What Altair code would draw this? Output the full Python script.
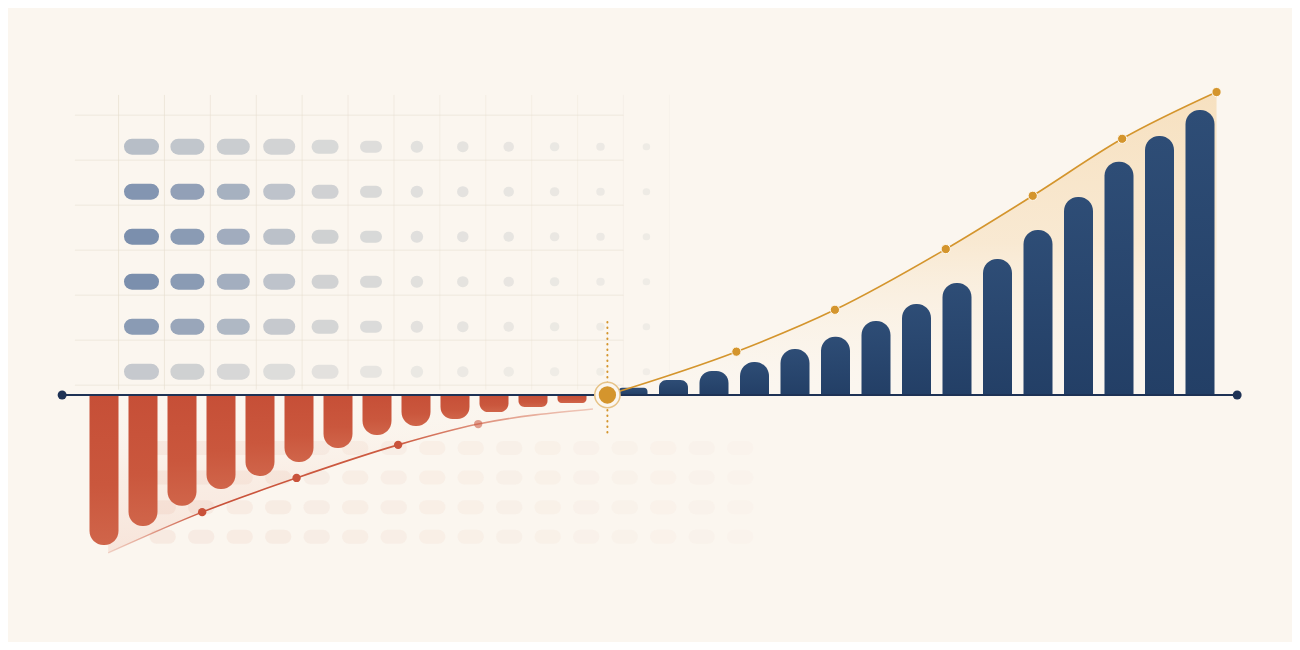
import altair as alt
import pandas as pd

# ---------------- data ----------------
loss_period = list(range(-13, 0))
loss_value = [-52.6, -46.0, -38.9, -33.0, -28.4, -23.5, -18.6, -14.0, -10.9, -8.4, -6.0, -4.2, -2.8]

gain_period = list(range(1, 16))
gain_value = [2.5, 5.3, 8.4, 11.6, 16.1, 20.4, 26.0, 31.9, 39.3, 47.7, 57.9, 69.5, 81.8, 90.9, 100.0]

trend_up_period = [0.5, 3.63, 6.02, 8.71, 10.82, 12.99, 15.28]
trend_up_value = [0.0, 15.2, 29.9, 51.2, 69.9, 89.9, 106.3]

trend_down_period = [-12.77, -10.41, -8.04, -5.49, -3.48, -0.6]
trend_down_value = [-55.4, -41.1, -29.1, -17.5, -10.2, -4.9]

break_even_period = [0.5]
axis_extent = [-12.73, 15.78]
marker_extent = [25.6, -14.0]

# background pill matrix (shade 0..1 per column, one list per row)
grid_row_1 = [0.55, 0.48, 0.42, 0.35, 0.28, 0.22, 0.18, 0.15, 0.12, 0.09, 0.07, 0.05]
grid_row_2 = [0.90, 0.80, 0.66, 0.50, 0.37, 0.27, 0.20, 0.16, 0.13, 0.10, 0.07, 0.05]
grid_row_3 = [0.95, 0.85, 0.70, 0.52, 0.38, 0.28, 0.20, 0.16, 0.13, 0.10, 0.07, 0.05]
grid_row_4 = [0.95, 0.85, 0.68, 0.50, 0.36, 0.27, 0.19, 0.15, 0.12, 0.09, 0.06, 0.04]
grid_row_5 = [0.85, 0.75, 0.60, 0.45, 0.33, 0.25, 0.17, 0.14, 0.10, 0.08, 0.05, 0.04]
grid_row_6 = [0.45, 0.38, 0.30, 0.23, 0.17, 0.13, 0.09, 0.07, 0.05, 0.04, 0.03, 0.02]
grid_rows = [grid_row_1, grid_row_2, grid_row_3, grid_row_4, grid_row_5, grid_row_6]
lower_rows = [1, 2, 3, 4]
lower_cols = list(range(1, 17))

# ---------------- styles ----------------
BG = "#FBF6EF"
NAVY = "#1E3255"
GOLD = "#D4952D"
RED = "#C9523A"
PILL_LEN_PX = [19, 18, 17, 16, 13, 10, 0.5, 0.5, 0.5, 0.5, 0.5, 0.5]
PILL_THICK_PX = [16, 16, 16, 16, 14, 12, 12, 11, 10, 9, 8, 7]
COL_STEP_PX = 45.9

W, H = 1284, 634

# ---------------- tables ----------------
loss = pd.DataFrame({"period": loss_period, "value": loss_value})
gain = pd.DataFrame({"period": gain_period, "value": gain_value})
up = pd.DataFrame({"period": trend_up_period, "value": trend_up_value})
up_dots = up.iloc[1:]
down = pd.DataFrame({"period": trend_down_period, "value": trend_down_value})
down_dots = down.iloc[1:5]
bep = pd.DataFrame({"period": break_even_period, "value": [0.0]})
axis_df = pd.DataFrame({"start": [axis_extent[0]], "end": [axis_extent[1]]})
axis_ends = pd.DataFrame({"period": axis_extent, "value": [0.0, 0.0]})
marker_df = pd.DataFrame({"period": break_even_period, "top": [marker_extent[0]], "bottom": [marker_extent[1]]})

pill_records = []
for r, row in enumerate(grid_rows, start=1):
    for c, shade in enumerate(row, start=1):
        half = PILL_LEN_PX[c - 1] / 2 / COL_STEP_PX
        pill_records.append({"row": r, "col": c, "x1": c - half, "x2": c + half,
                             "shade": shade, "thick": PILL_THICK_PX[c - 1]})
pills = pd.DataFrame(pill_records)

vlines = pd.DataFrame({"gx": [c - 0.5 for c in range(1, 14)], "y1": -0.15, "y2": 6.4})
hlines = pd.DataFrame({"gy": [r - 0.7 for r in range(1, 8)], "x1": -0.45, "x2": 11.5})

lower = pd.DataFrame([{"lrow": q, "lcol": k} for q in lower_rows for k in lower_cols])

# ---------------- scales ----------------
Y = alt.Scale(domain=[-86.67, 135.79], nice=False, zero=False)
XR = alt.Scale(domain=[-13, -1], range=[91, 569], nice=False, zero=False)
XB = alt.Scale(domain=[1, 15], range=[620, 1197], nice=False, zero=False)
GX = alt.Scale(domain=[1, 12], range=[133.5, 638.4], nice=False, zero=False)
GY = alt.Scale(domain=[1, 6], range=[138.7, 363.7], nice=False, zero=False)
LX = alt.Scale(domain=[1, 16], range=[154.7, 732.2], nice=False, zero=False)
LY = alt.Scale(domain=[1, 4], range=[440, 528.8], nice=False, zero=False)


def grad(stops, vertical=True):
    return alt.Gradient(
        gradient="linear",
        stops=[alt.GradientStop(color=c, offset=o) for o, c in stops],
        x1=0, x2=0 if vertical else 1, y1=0, y2=1 if vertical else 0,
    )


# background grid lines
grid_v = alt.Chart(vlines).mark_rule(color="#E6DDCE", strokeWidth=1).encode(
    x=alt.X("gx:Q", scale=GX, axis=None),
    y=alt.Y("y1:Q", scale=GY, axis=None),
    y2="y2:Q",
    opacity=alt.Opacity("gx:Q", scale=alt.Scale(domain=[0.5, 12.5], range=[0.65, 0.15]), legend=None),
)
grid_h = alt.Chart(hlines).mark_rule(color="#E6DDCE", strokeWidth=1, opacity=0.5).encode(
    x=alt.X("x1:Q", scale=GX, axis=None),
    x2="x2:Q",
    y=alt.Y("gy:Q", scale=GY, axis=None),
)

pill_layer = alt.Chart(pills).mark_rule(strokeCap="round").encode(
    x=alt.X("x1:Q", scale=GX, axis=None),
    x2="x2:Q",
    y=alt.Y("row:Q", scale=GY, axis=None),
    strokeWidth=alt.StrokeWidth("thick:Q", scale=None),
    color=alt.Color("shade:Q", scale=alt.Scale(domain=[0, 0.4, 1], range=["#F3EFE8", "#CDCFD1", "#7489AA"], interpolate="rgb"), legend=None),
)

lower_layer = alt.Chart(lower).mark_rule(strokeCap="round", strokeWidth=14, color="#F5E6DC").encode(
    x=alt.X("x1:Q", scale=LX, axis=None),
    x2="x2:Q",
    y=alt.Y("lrow:Q", scale=LY, axis=None),
    opacity=alt.Opacity("lcol:Q", scale=alt.Scale(domain=[1, 16], range=[0.7, 0.15]), legend=None),
).transform_calculate(x1="datum.lcol - 0.16", x2="datum.lcol + 0.16")

# areas under the trend lines
gold_area = alt.Chart(up).mark_area(
    interpolate="monotone",
    fill=grad([(0, "rgba(240,190,115,0.38)"), (0.5, "rgba(242,196,128,0.26)"), (0.85, "rgba(248,225,190,0.08)"), (1, "rgba(251,246,239,0)")]),
).encode(
    x=alt.X("period:Q", scale=XB, axis=None),
    y=alt.Y("value:Q", scale=Y, axis=None),
    y2=alt.datum(0),
)
red_area = alt.Chart(down).mark_area(
    interpolate="monotone",
    fill=grad([(0, "rgba(251,246,239,0)"), (0.5, "rgba(235,165,140,0.10)"), (1, "rgba(230,150,125,0.18)")]),
).encode(
    x=alt.X("period:Q", scale=XR, axis=None),
    y=alt.Y("value:Q", scale=Y, axis=None),
    y2=alt.datum(0),
)

marker = alt.Chart(marker_df).mark_rule(color=GOLD, strokeWidth=2, strokeDash=[0.5, 5], strokeCap="round").encode(
    x=alt.X("period:Q", scale=XB, axis=None),
    y=alt.Y("top:Q", scale=Y, axis=None),
    y2="bottom:Q",
)

red_bars = alt.Chart(loss).mark_bar(
    width=29, cornerRadiusBottomLeft=14, cornerRadiusBottomRight=14,
    fill=grad([(0, "#C64F37"), (0.6, "#CA573D"), (1, "#D0654A")]),
).encode(
    x=alt.X("period:Q", scale=XR, axis=None),
    y=alt.Y("value:Q", scale=Y, axis=None),
    y2=alt.datum(0),
)

blue_bars = alt.Chart(gain).mark_bar(
    width=29, cornerRadiusTopLeft=14, cornerRadiusTopRight=14,
    fill=grad([(0, "#2E4D76"), (1, "#233F66")]),
).encode(
    x=alt.X("period:Q", scale=XB, axis=None),
    y=alt.Y("value:Q", scale=Y, axis=None),
    y2=alt.datum(0),
)

axis_rule = alt.Chart(axis_df).mark_rule(color=NAVY, strokeWidth=2).encode(
    x=alt.X("start:Q", scale=XB, axis=None),
    x2="end:Q",
    y=alt.Y("zero:Q", scale=Y, axis=None),
).transform_calculate(zero="0")
axis_dots = alt.Chart(axis_ends).mark_circle(size=80, color=NAVY, opacity=1).encode(
    x=alt.X("period:Q", scale=XB, axis=None),
    y=alt.Y("value:Q", scale=Y, axis=None),
)

gold_line = alt.Chart(up).mark_line(interpolate="monotone", color=GOLD, strokeWidth=1.6).encode(
    x=alt.X("period:Q", scale=XB, axis=None),
    y=alt.Y("value:Q", scale=Y, axis=None),
)
gold_dots = alt.Chart(up_dots).mark_circle(size=85, color=GOLD, opacity=1, stroke="#FFF9EF", strokeWidth=1).encode(
    x=alt.X("period:Q", scale=XB, axis=None),
    y=alt.Y("value:Q", scale=Y, axis=None),
)

red_line = alt.Chart(down).mark_line(
    interpolate="monotone", strokeWidth=1.6,
    stroke=grad([(0, "rgba(214,120,95,0.25)"), (0.2, "#C9523A"), (0.6, "#CD5C42"), (1, "rgba(232,170,150,0.6)")], vertical=False),
).encode(
    x=alt.X("period:Q", scale=XR, axis=None),
    y=alt.Y("value:Q", scale=Y, axis=None),
)
red_dots = alt.Chart(down_dots).mark_circle(size=70, color=RED).encode(
    x=alt.X("period:Q", scale=XR, axis=None),
    y=alt.Y("value:Q", scale=Y, axis=None),
    opacity=alt.condition(alt.datum.period > -4, alt.value(0.55), alt.value(1)),
)

bep_ring = alt.Chart(bep).mark_circle(size=640, fill=BG, stroke="#E6C286", strokeWidth=1.5, opacity=1).encode(
    x=alt.X("period:Q", scale=XB, axis=None),
    y=alt.Y("value:Q", scale=Y, axis=None),
)
bep_dot = alt.Chart(bep).mark_circle(size=300, color=GOLD, opacity=1).encode(
    x=alt.X("period:Q", scale=XB, axis=None),
    y=alt.Y("value:Q", scale=Y, axis=None),
)

chart = alt.layer(
    grid_h, grid_v, pill_layer, lower_layer,
    gold_area, red_area, marker,
    red_bars, blue_bars, axis_rule, axis_dots,
    red_line, red_dots, gold_line, gold_dots,
    bep_ring, bep_dot,
).resolve_scale(
    x="independent", y="independent", color="independent", opacity="independent"
).properties(
    width=W, height=H, padding=0, autosize=alt.AutoSizeParams(type="none"), background=BG,
).configure_view(stroke=None)

chart.save("out.html", embed_options={"renderer": "svg", "actions": False})
